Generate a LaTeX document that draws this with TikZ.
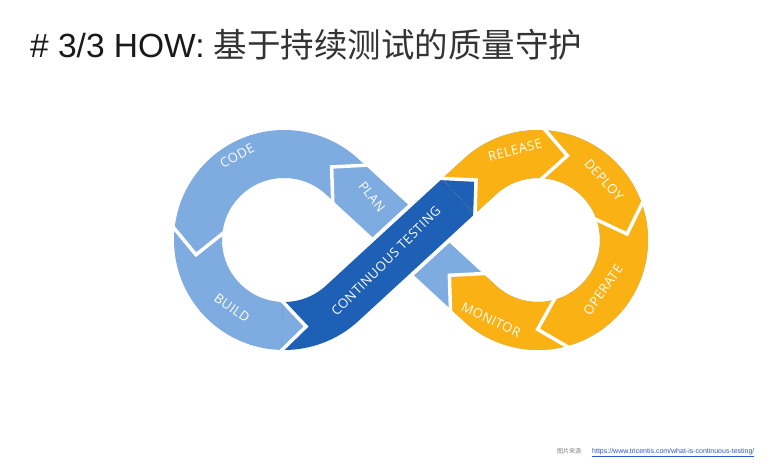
\documentclass[tikz,border=0pt]{standalone}
\usepackage{fontspec}
\setmainfont{Liberation Sans}
\newfontfamily\cjk{Noto Sans CJK SC}
\newfontfamily\lblfont[LetterSpace=4]{Open Sans}
\usetikzlibrary{calc,decorations.markings}
\definecolor{lb}{RGB}{126,171,224}
\definecolor{dk}{RGB}{30,96,182}
\definecolor{og}{RGB}{250,177,20}
\definecolor{urlblue}{RGB}{45,85,205}
\newcommand\chev[1]{\fill[#1] (0,24.5)--(24,0)--(0,-24.5)--cycle;
  \draw[white,line width=3.5pt,line join=miter] (-3,27.5)--(24,0)--(-3,-27.5);}
\begin{document}
\begin{tikzpicture}[x=1pt,y=1pt,
  lbl/.style={text=white,font=\lblfont\fontsize{13}{15}\selectfont,inner sep=0pt},
  band/.style={line width=48pt,line cap=butt}]
\useasboundingbox (0,0) rectangle (775,471);
\fill[white] (0,0) rectangle (775,471);
\coordinate (L) at (284,231);
\coordinate (R) at (538,231);
\coordinate (A) at ($(L)+(47.4:86)$);
\coordinate (B) at ($(L)+(-47.4:86)$);
\coordinate (C) at ($(R)+(132.6:86)$);
\coordinate (D) at ($(R)+(227.4:86)$);
% light base
\draw[band,lb] (A) arc[start angle=47.4,end angle=312.6,radius=86] -- (C) arc[start angle=132.6,end angle=-132.6,radius=86] -- cycle;
% continuous testing band with white outline
\draw[line width=56pt,line cap=butt,white,dash pattern=on 0pt off 332.2pt on 223.8pt off 1200pt] (A) arc[start angle=47.4,end angle=312.6,radius=86] -- (C) arc[start angle=132.6,end angle=-132.6,radius=86] -- cycle;
\draw[band,dk,dash pattern=on 0pt off 332.2pt on 223.8pt off 1200pt] (A) arc[start angle=47.4,end angle=312.6,radius=86] -- (C) arc[start angle=132.6,end angle=-132.6,radius=86] -- cycle;
% orange ring
\draw[band,og,dash pattern=on 0pt off 556pt on 444.5pt off 1200pt] (A) arc[start angle=47.4,end angle=312.6,radius=86] -- (C) arc[start angle=132.6,end angle=-132.6,radius=86] -- cycle;
% chevrons
\path[postaction={decorate},decoration={markings,
  mark=at position 189.9pt with {\chev{lb}},
  mark=at position 332.2pt with {\chev{lb}},
  mark=at position 556pt with {\chev{dk}},
  mark=at position 654.4pt with {\chev{og}},
  mark=at position 754.9pt with {\chev{og}},
  mark=at position 896.2pt with {\chev{og}},
  mark=at position 1000.5pt with {\chev{og}},
  mark=at position 1160.5pt with {\chev{lb}}}]
  (A) arc[start angle=47.4,end angle=312.6,radius=86] -- (C) arc[start angle=132.6,end angle=-132.6,radius=86] -- cycle;
% labels
\node[lbl,rotate=28] (code) at (237,315) {CODE};
\node[lbl,rotate=-35] (build) at (232,163) {BUILD};
\node[lbl,rotate=-52] (plan) at (372,274) {PLAN};
\node[lbl,rotate=45] (ct) at (386,210) {CONTINUOUS TESTING};
\node[lbl,rotate=15] (release) at (515,321) {RELEASE};
\node[lbl,rotate=-48] (deploy) at (604,291) {DEPLOY};
\node[lbl,rotate=55] (operate) at (603,181) {OPERATE};
\node[lbl,rotate=-25] (monitor) at (491,151) {MONITOR};
% title
\node[anchor=base west,inner sep=0pt,font=\fontsize{33.5}{38}\selectfont,text=black!90] (title) at (30,413) {\# 3/3 HOW: {\cjk\fontsize{33.5}{38}\selectfont\color{black!80}基于持续测试的质量守护}};
% footer
\node[anchor=base west,inner sep=0pt,font=\cjk\fontsize{6}{7}\selectfont,text=gray] (src) at (557,18) {图片来源};
\node[anchor=base west,inner sep=0pt,font=\fontsize{7}{8}\selectfont,text=urlblue] (url) at (592,18) {\underline{https://www.tricentis.com/what-is-continuous-testing/}};
\end{tikzpicture}
\end{document}
